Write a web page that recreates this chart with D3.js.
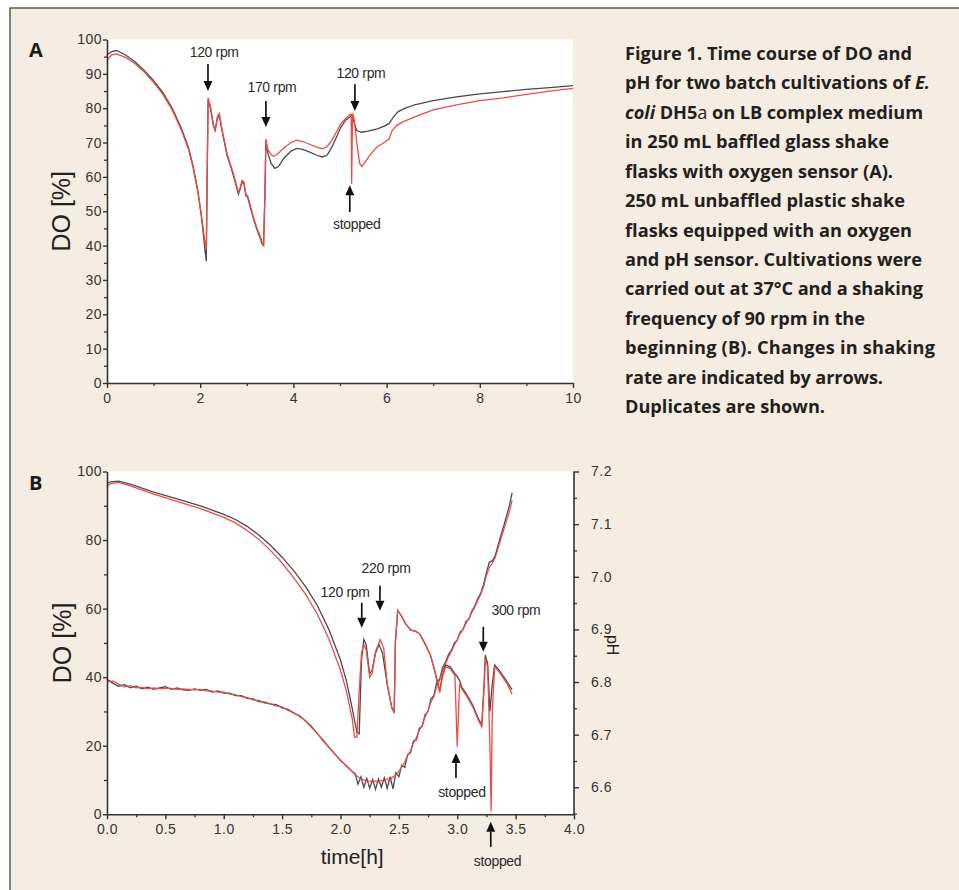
<!DOCTYPE html>
<html><head><meta charset="utf-8">
<script src="https://cdn.jsdelivr.net/npm/d3@7"></script>
<style>
html,body{margin:0;padding:0;background:#fff;}
svg{display:block;}
</style></head><body>
<svg id="chart" width="959" height="890"></svg>
<script>
// ---------------- Panel A data (time [h], DO [%]) ----------------
const tA_black = [0,0.1,0.2,0.4,0.6,0.8,1.0,1.2,1.4,1.6,1.75,1.85,1.95,2.03,2.10,2.13,2.15,2.17,2.22,2.28,2.32,2.37,2.41,2.46,2.52,2.58,2.63,2.70,2.77,2.82,2.86,2.90,2.94,2.98,3.02,3.08,3.15,3.22,3.28,3.33,3.36,3.39,3.41,3.45,3.52,3.60,3.68,3.80,3.95,4.07,4.20,4.35,4.50,4.62,4.72,4.82,4.92,5.02,5.12,5.22,5.26,5.30,5.36,5.46,5.60,5.80,5.95,6.05,6.15,6.25,6.40,6.60,7.0,7.5,8.0,8.5,9.0,9.5,10.0];
const doA_black = [95.5,96.5,96.8,95.5,93.5,91,88,84.5,80,74,68.5,63,56,48,39,35.5,60,82.5,80,75,73.5,77,78,74,70,66,64,61,57.5,55,56.5,58.5,58,54.5,54,51,47.5,44.5,42.5,40.5,40,55,70.5,67,64,62.5,63,65.5,67.5,68.3,68,67.2,66.3,65.8,66.3,68.5,71.5,74.5,76.5,77.5,78,76,73.5,73,73.3,74,74.8,75.5,77.5,79,80,81,82.2,83.3,84.2,84.8,85.5,86,86.6];
const tA_red = [0,0.1,0.2,0.4,0.6,0.8,1.0,1.2,1.4,1.6,1.75,1.85,1.95,2.03,2.10,2.13,2.15,2.17,2.22,2.28,2.32,2.37,2.41,2.46,2.52,2.58,2.63,2.70,2.77,2.82,2.86,2.90,2.94,2.98,3.02,3.08,3.15,3.22,3.28,3.33,3.36,3.39,3.41,3.45,3.52,3.57,3.65,3.80,3.95,4.07,4.20,4.35,4.50,4.62,4.72,4.82,4.92,5.02,5.12,5.20,5.24,5.25,5.27,5.30,5.36,5.42,5.47,5.55,5.65,5.80,5.95,6.05,6.12,6.22,6.35,6.60,7.0,7.5,8.0,8.5,9.0,9.5,10.0];
const doA_red = [94,95.5,95.8,94.8,93,90.5,87.5,84,79.5,73.5,68,62.5,55.5,48.5,41,39,62,83,80.5,75.5,73.5,77.5,78.5,74.5,70.5,66.5,64.5,61.5,58,55.5,57,59,58.5,55,54.5,51.5,48,45,43,41,40,56,71,68,66.5,66,66.5,68.5,70,70.7,70.3,69.5,68.7,68.2,68.8,70.5,73,75.5,77,78,78.2,58,78.5,77,70,64,63,64.5,66.5,68.8,70,71,73.5,75,76,77.5,79.5,81,82.2,83,84,85,85.8];
const xTicksA = [0,2,4,6,8,10];
const xMinorA = [1,3,5,7,9];
const yTicksA = [0,10,20,30,40,50,60,70,80,90,100];
const yMinorA = [5,15,25,35,45,55,65,75,85,95];
const annA_labels = ["120 rpm","170 rpm","120 rpm","stopped"];
const annA_arrowT = [2.167,3.41,5.32,5.21];
const annA_headV = [85.0,74.5,79.2,57.6];
const annA_tailV = [92.9,82.1,87.0,49.8];
const annA_textT = [2.30,3.54,5.45,5.36];
const annA_textV = [94.9,84.7,88.8,44.8];

// ---------------- Panel B data ----------------
const tB_black = [0,0.03,0.1,0.2,0.4,0.6,0.8,1.0,1.1,1.2,1.3,1.4,1.5,1.6,1.7,1.8,1.9,2.0,2.05,2.1,2.14,2.16,2.18,2.20,2.22,2.25,2.27,2.30,2.33,2.36,2.40,2.44,2.46,2.47,2.49,2.52,2.56,2.60,2.65,2.68,2.72,2.77,2.81,2.85,2.87,2.90,2.94,2.98,3.00,3.02,3.04,3.08,3.13,3.18,3.21,3.23,3.24,3.26,3.28,3.30,3.32,3.36,3.42,3.47];
const doB_black = [96.5,97,97.2,96.3,94,92,90,87.5,86,84,81.5,78.5,75,71,66.5,61,54,45,39,31,24,23.5,45,51,49.5,41,42,47,49.5,47,38,31,30,50,59.5,58,55.5,53.8,53.3,52.5,50,46.5,41.5,36,40,43.5,43,41,40.2,39,37,35,32,28,26.1,38,46.5,44,30,38,43.6,42,39,36.3];
const tB_red = [0,0.03,0.1,0.2,0.4,0.6,0.8,1.0,1.1,1.2,1.3,1.4,1.5,1.6,1.7,1.8,1.9,2.0,2.05,2.1,2.12,2.14,2.16,2.18,2.20,2.22,2.25,2.27,2.30,2.34,2.37,2.40,2.44,2.46,2.47,2.49,2.52,2.56,2.60,2.65,2.68,2.72,2.77,2.81,2.85,2.87,2.90,2.94,2.98,3.00,3.02,3.04,3.08,3.13,3.18,3.21,3.23,3.24,3.26,3.28,3.29,3.30,3.32,3.36,3.42,3.47];
const doB_red = [95.5,96.5,96.8,95.8,93.4,91.3,89.2,86.6,85,82.8,80.2,77,73.3,69,64.2,58.5,51.2,42,36,28,22.6,22.5,36,47,49.5,48,40,41,47.5,51,48.5,38,31,29.5,50,59.5,58,55.5,53.8,53.3,52.5,50,46.5,41.5,35.5,39.5,43,42.5,40.5,19.7,38,36.5,34.5,31.5,27.5,25.5,37,45.5,43,20,0.8,30,43,41.5,38.5,35];
const tB_ph = [0,0.05,0.10,0.15,0.20,0.25,0.30,0.35,0.40,0.45,0.50,0.55,0.60,0.65,0.70,0.75,0.80,0.85,0.90,0.95,1.00,1.05,1.10,1.15,1.20,1.25,1.30,1.35,1.40,1.45,1.50,1.55,1.60,1.65,1.70,1.75,1.80,1.85,1.90,1.95,2.00,2.05,2.10,2.125,2.15,2.175,2.20,2.225,2.25,2.275,2.30,2.325,2.35,2.375,2.40,2.425,2.45,2.475,2.50,2.525,2.55,2.575,2.60,2.625,2.65,2.675,2.70,2.725,2.75,2.775,2.80,2.825,2.85,2.875,2.90,2.925,2.95,2.975,3.00,3.025,3.05,3.075,3.10,3.125,3.15,3.175,3.20,3.225,3.25,3.275,3.30,3.325,3.35,3.375,3.40,3.425,3.45,3.47];
const phB_black = [6.805,6.798,6.792,6.795,6.789,6.792,6.787,6.790,6.786,6.789,6.791,6.786,6.789,6.785,6.784,6.787,6.784,6.786,6.781,6.783,6.779,6.779,6.774,6.774,6.769,6.768,6.763,6.762,6.758,6.757,6.751,6.748,6.741,6.736,6.726,6.716,6.702,6.690,6.676,6.664,6.651,6.641,6.630,6.626,6.606,6.620,6.600,6.617,6.598,6.615,6.596,6.616,6.600,6.618,6.598,6.620,6.597,6.628,6.620,6.642,6.638,6.662,6.666,6.688,6.690,6.712,6.716,6.738,6.744,6.768,6.774,6.800,6.806,6.828,6.838,6.852,6.860,6.874,6.880,6.895,6.900,6.915,6.920,6.935,6.944,6.958,6.968,6.985,7.008,7.028,7.030,7.040,7.060,7.080,7.098,7.118,7.138,7.160];
const phB_red = [6.800,6.802,6.796,6.791,6.793,6.789,6.790,6.787,6.789,6.787,6.788,6.788,6.786,6.787,6.786,6.785,6.786,6.783,6.783,6.781,6.781,6.777,6.776,6.772,6.771,6.766,6.765,6.760,6.759,6.754,6.753,6.746,6.742,6.734,6.727,6.714,6.703,6.688,6.677,6.663,6.652,6.640,6.630,6.624,6.620,6.616,6.614,6.612,6.612,6.610,6.612,6.610,6.613,6.612,6.616,6.614,6.620,6.624,6.630,6.640,6.648,6.660,6.670,6.684,6.694,6.708,6.718,6.734,6.746,6.762,6.772,6.792,6.804,6.822,6.834,6.848,6.858,6.870,6.880,6.892,6.900,6.912,6.920,6.932,6.942,6.955,6.966,6.980,7.002,7.018,7.026,7.036,7.054,7.072,7.090,7.108,7.126,7.145];
const xTicksB = [0,0.5,1.0,1.5,2.0,2.5,3.0,3.5,4.0];
const xMinorB = [0.25,0.75,1.25,1.75,2.25,2.75,3.25,3.75];
const yTicksB = [0,20,40,60,80,100];
const yMinorB = [10,30,50,70,90];
const phTicks = [6.6,6.7,6.8,6.9,7.0,7.1,7.2];
const phMinor = [6.55,6.65,6.75,6.85,6.95,7.05,7.15];
const annB_labels = ["120 rpm","220 rpm","300 rpm","stopped","stopped"];
const annB_arrowT = [2.182,2.338,3.223,2.989,3.287];
const annB_headV = [54.4,59.4,47.4,17.9,-2.2];
const annB_tailV = [61.7,66.7,54.7,10.6,-9.5];
const annB_textT = [2.039,2.39,3.503,3.04,3.345];
const annB_textV = [63.4,70.5,58.1,5.1,-15.1];

// ---------------- Caption ----------------
const captionLines = [
  [["Figure 1. Time course of DO and","b"]],
  [["pH for two batch cultivations of ","b"],["E.","bi"]],
  [["coli","bi"],[" DH5","b"],["a","r"],[" on LB complex medium","b"]],
  [["in 250 mL baffled glass shake","b"]],
  [["flasks with oxygen sensor (A).","b"]],
  [["250 mL unbaffled plastic shake","b"]],
  [["flasks equipped with an oxygen","b"]],
  [["and pH sensor. Cultivations were","b"]],
  [["carried out at 37°C and a shaking","b"]],
  [["frequency of 90 rpm in the","b"]],
  [["beginning (B). Changes in shaking","b"]],
  [["rate are indicated by arrows.","b"]],
  [["Duplicates are shown.","b"]]
];
// layout: measured line widths of the caption in the reference (px)
const captionWidths = [287,305,298,264,268,280,287,297,298,240,310,258,200];

// ================= drawing =================
const svg = d3.select("#chart");
const W = 959, H = 890;
const FONT = "'Liberation Sans', Arial, sans-serif";
const AX = "#333";
const BLACK = "#4a4a4a", RED = "#ee4b45";

svg.append("rect").attr("x",0).attr("y",0).attr("width",W).attr("height",H).attr("fill","#fff");
svg.append("rect").attr("x",10).attr("y",8).attr("width",W+20).attr("height",H+20)
  .attr("fill","#f6ede2").attr("stroke","#5a5a5a").attr("stroke-width",1.5);

function styleAxis(g){
  g.select(".domain").attr("stroke",AX).attr("stroke-width",1.6);
  g.selectAll(".tick line").attr("stroke",AX).attr("stroke-width",1.4);
  g.selectAll(".tick text").attr("fill","#333").attr("font-family",FONT).attr("font-size",14).attr("letter-spacing","0.5");
}
function minor(g){
  g.select(".domain").remove();
  g.selectAll(".tick line").attr("stroke",AX).attr("stroke-width",1.3);
}
function arrow(g, x, yTail, yHead){
  const dir = yHead > yTail ? 1 : -1;
  const hl = 10, hw = 4.5;
  g.append("line").attr("x1",x).attr("x2",x).attr("y1",yTail).attr("y2",yHead - dir*hl)
    .attr("stroke","#111").attr("stroke-width",1.7);
  g.append("path").attr("d",`M${x-hw},${yHead-dir*hl} L${x+hw},${yHead-dir*hl} L${x},${yHead} Z`).attr("fill","#111");
}
function annText(g, x, y, txt){
  g.append("text").attr("x",x).attr("y",y).attr("text-anchor","middle")
    .attr("font-family",FONT).attr("font-size",14).attr("letter-spacing","-0.35")
    .attr("fill","#2a2a2a").text(txt);
}

// ----- Panel A -----
const xA = d3.scaleLinear().domain([0,10]).range([107,573]);
const yA = d3.scaleLinear().domain([0,100]).range([383,39.5]);
const gA = svg.append("g");
gA.append("rect").attr("x",xA(0)).attr("y",yA(100)).attr("width",xA(10)-xA(0)).attr("height",yA(0)-yA(100)).attr("fill","#fff");
const lineA = d3.line().x(d=>xA(d[0])).y(d=>yA(d[1]));
gA.append("path").attr("d",lineA(d3.zip(tA_black,doA_black))).attr("fill","none").attr("stroke",BLACK).attr("stroke-width",1.3);
gA.append("path").attr("d",lineA(d3.zip(tA_red,doA_red))).attr("fill","none").attr("stroke",RED).attr("stroke-width",1.3);

gA.append("g").attr("transform",`translate(0,${yA(0)})`).call(d3.axisBottom(xA).tickValues(xMinorA).tickSize(3).tickFormat("")).call(minor);
gA.append("g").attr("transform",`translate(${xA(0)},0)`).call(d3.axisLeft(yA).tickValues(yMinorA).tickSize(3).tickFormat("")).call(minor);
gA.append("g").attr("transform",`translate(0,${yA(0)})`).call(d3.axisBottom(xA).tickValues(xTicksA).tickSize(5).tickSizeOuter(0).tickPadding(5).tickFormat(d3.format("d"))).call(styleAxis);
gA.append("g").attr("transform",`translate(${xA(0)},0)`).call(d3.axisLeft(yA).tickValues(yTicksA).tickSize(4).tickSizeOuter(0).tickPadding(1).tickFormat(d3.format("d"))).call(styleAxis);

annA_labels.forEach((lab,i)=>{
  arrow(gA, xA(annA_arrowT[i]), yA(annA_tailV[i]), yA(annA_headV[i]));
  annText(gA, xA(annA_textT[i]), yA(annA_textV[i]), lab);
});
gA.append("text").attr("transform",`translate(70,${(yA(0)+yA(100))/2}) rotate(-90)`).attr("text-anchor","middle")
  .attr("font-family",FONT).attr("font-size",25).attr("fill","#222").text("DO [%]");
gA.append("text").attr("x",29).attr("y",57).attr("font-family","'Open Sans', sans-serif").attr("font-weight",700)
  .attr("font-size",20).attr("fill","#1a1a1a").text("A");

// ----- Panel B -----
const xB = d3.scaleLinear().domain([0,4]).range([107,574]);
const yB = d3.scaleLinear().domain([0,100]).range([814.3,471.5]);
const yP = d3.scaleLinear().domain([6.6,7.2]).range([787.3,471.5]);
const gB = svg.append("g");
gB.append("rect").attr("x",xB(0)).attr("y",yB(100)).attr("width",xB(4)-xB(0)).attr("height",yB(0)-yB(100)).attr("fill","#fff");
const lineB = d3.line().x(d=>xB(d[0])).y(d=>yB(d[1]));
const lineP = d3.line().x(d=>xB(d[0])).y(d=>yP(d[1]));
gB.append("path").attr("d",lineP(d3.zip(tB_ph,phB_black))).attr("fill","none").attr("stroke",BLACK).attr("stroke-width",1.3);
gB.append("path").attr("d",lineP(d3.zip(tB_ph,phB_red))).attr("fill","none").attr("stroke",RED).attr("stroke-width",1.2);
gB.append("path").attr("d",lineB(d3.zip(tB_black,doB_black))).attr("fill","none").attr("stroke",BLACK).attr("stroke-width",1.3);
gB.append("path").attr("d",lineB(d3.zip(tB_red,doB_red))).attr("fill","none").attr("stroke",RED).attr("stroke-width",1.3);

gB.append("g").attr("transform",`translate(0,${yB(0)})`).call(d3.axisBottom(xB).tickValues(xMinorB).tickSize(3).tickFormat("")).call(minor);
gB.append("g").attr("transform",`translate(${xB(0)},0)`).call(d3.axisLeft(yB).tickValues(yMinorB).tickSize(3).tickFormat("")).call(minor);
gB.append("g").attr("transform",`translate(${xB(4)},0)`).call(d3.axisRight(yP).tickValues(phMinor).tickSize(3).tickFormat("")).call(minor);
gB.append("g").attr("transform",`translate(0,${yB(0)})`).call(d3.axisBottom(xB).tickValues(xTicksB).tickSize(5).tickSizeOuter(0).tickPadding(5).tickFormat(d3.format(".1f"))).call(styleAxis);
gB.append("g").attr("transform",`translate(${xB(0)},0)`).call(d3.axisLeft(yB).tickValues(yTicksB).tickSize(4).tickSizeOuter(0).tickPadding(1).tickFormat(d3.format("d"))).call(styleAxis);
const gP = gB.append("g").attr("transform",`translate(${xB(4)},0)`).call(d3.axisRight(yP).tickValues(phTicks).tickSize(5).tickSizeOuter(0).tickPadding(12).tickFormat(d3.format(".1f"))).call(styleAxis);
gP.select(".domain").attr("d",`M0,${yB(0)}V${yP(7.2)}`);

annB_labels.forEach((lab,i)=>{
  arrow(gB, xB(annB_arrowT[i]), yB(annB_tailV[i]), yB(annB_headV[i]));
  annText(gB, xB(annB_textT[i]), yB(annB_textV[i]), lab);
});
gB.append("text").attr("transform",`translate(71,${(yB(0)+yB(100))/2}) rotate(-90)`).attr("text-anchor","middle")
  .attr("font-family",FONT).attr("font-size",25).attr("fill","#222").text("DO [%]");
gB.append("text").attr("x",(xB(1.75)+xB(2.45))/2).attr("y",864).attr("text-anchor","middle")
  .attr("font-family",FONT).attr("font-size",21).attr("fill","#222").text("time[h]");
gB.append("text").attr("transform",`translate(607,${yP(6.87)}) rotate(90)`).attr("text-anchor","middle")
  .attr("font-family",FONT).attr("font-size",16).attr("fill","#222").text("pH");
gB.append("text").attr("x",29).attr("y",490).attr("font-family","'Open Sans', sans-serif").attr("font-weight",700)
  .attr("font-size",20).attr("fill","#1a1a1a").text("B");

// ----- Caption -----
const cap = svg.append("g");
const capFont = "'Open Sans', sans-serif";
const capTexts = captionLines.map((segs,i)=>{
  const t = cap.append("text").attr("x",625).attr("y",60 + i*29.42)
    .attr("font-family",capFont).attr("font-size",16).attr("fill","#231f20");
  segs.forEach(([s,st])=>{
    t.append("tspan").text(s)
      .attr("font-weight", st==="r" ? 400 : 700)
      .attr("font-style", st==="bi" ? "italic" : "normal");
  });
  return t;
});
const w0 = capTexts[0].node().getComputedTextLength();
const fs = 16 * 287 / w0;
capTexts.forEach((t,i)=>t.attr("font-size",fs).attr("textLength",captionWidths[i]).attr("lengthAdjust","spacing"));
</script>
</body></html>
